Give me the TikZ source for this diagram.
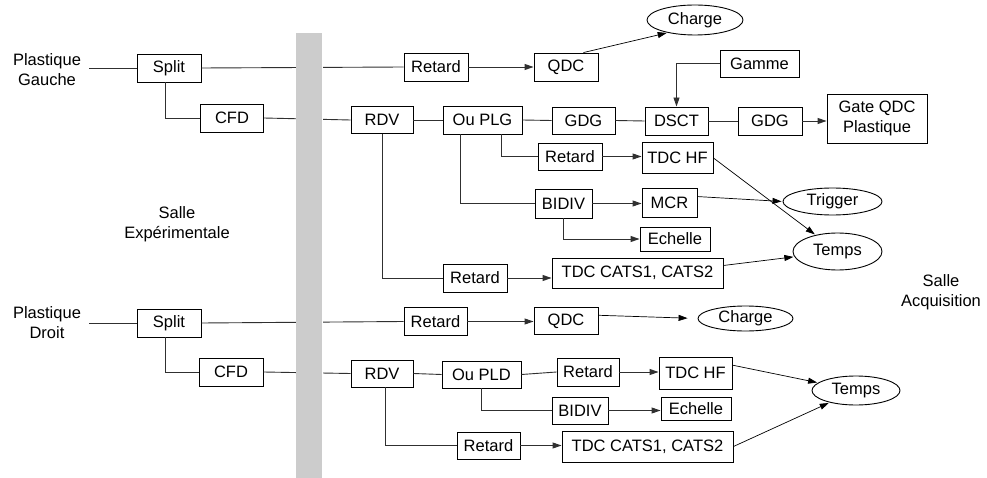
\documentclass[tikz,border=0pt]{standalone}
\usepackage{fontspec}
\setmainfont{Liberation Sans}
\usetikzlibrary{shapes.geometric,arrows.meta}
\definecolor{bargray}{HTML}{CCCCCC}
\definecolor{linegray}{HTML}{303030}
\tikzset{
  txt/.style={font=\fontsize{16.5}{20}\selectfont, inner sep=0pt},
  bx/.style={txt, draw=black, line width=0.9pt, fill=white},
  ell/.style={txt, draw=black, line width=0.9pt, ellipse},
  conn/.style={draw=linegray, line width=0.9pt},
  arr/.style={conn, -{Triangle[length=9pt,width=6pt]}},
  thinarr/.style={draw=black, line width=0.7pt, -{Triangle[length=9pt,width=6pt]}, shorten >=1pt},
}
\begin{document}
\begin{tikzpicture}[x=1pt,y=-1pt]
\useasboundingbox (0,0) rectangle (987,478);

% ---- upper chain (Plastique Gauche)
\node[txt, align=center] (pg) at (47,70) {Plastique\\Gauche};
\node[bx, minimum width=64, minimum height=28] (split1) at (169,68) {Split};
\node[bx, minimum width=63, minimum height=28] (cfd1) at (232,118) {CFD};
\node[bx, minimum width=64, minimum height=28] (retard1) at (436,67) {Retard};
\node[bx, minimum width=64, minimum height=28] (qdc1) at (566,67) {QDC};
\node[ell, minimum width=96, minimum height=30] (charge1) at (695,20) {Charge};
\node[bx, minimum width=62, minimum height=27] (rdv1) at (382,120) {RDV};
\node[bx, minimum width=79, minimum height=28] (ouplg) at (482.5,120) {Ou PLG};
\node[bx, minimum width=63, minimum height=27] (gdg1) at (583.5,120.5) {GDG};
\node[bx, minimum width=63, minimum height=28] (dsct) at (676.5,121) {DSCT};
\node[bx, minimum width=64, minimum height=28] (gdg2) at (770,121) {GDG};
\node[bx, minimum width=100, minimum height=49, align=center] (gate) at (877,118.5) {Gate QDC\\Plastique};
\node[bx, minimum width=79, minimum height=27] (gamme) at (759.5,63.5) {Gamme};
\node[bx, minimum width=64, minimum height=27] (retard2) at (570,156.5) {Retard};
\node[bx, minimum width=71, minimum height=31] (tdchf1) at (677.5,158) {TDC HF};
\node[bx, minimum width=57, minimum height=29] (bidiv1) at (563.5,203.5) {BIDIV};
\node[bx, minimum width=55, minimum height=29] (mcr) at (669.5,202.5) {MCR};
\node[ell, minimum width=99, minimum height=27] (trigger) at (832.5,201.5) {Trigger};
\node[bx, minimum width=70, minimum height=24] (echelle1) at (675,239) {Echelle};
\node[bx, minimum width=64, minimum height=28] (retard3) at (475,278) {Retard};
\node[bx, minimum width=171, minimum height=30] (tdccats1) at (637.5,273) {TDC CATS1, CATS2};
\node[ell, minimum width=89, minimum height=37] (temps1) at (837.5,251.5) {Temps};

% ---- lower chain (Plastique Droit)
\node[txt, align=center] (pd) at (47,323) {Plastique\\Droit};
\node[bx, minimum width=64, minimum height=28] (split2) at (169,323) {Split};
\node[bx, minimum width=64, minimum height=28] (cfd2) at (231,372) {CFD};
\node[bx, minimum width=63, minimum height=28] (retard4) at (435.5,321.5) {Retard};
\node[bx, minimum width=64, minimum height=27] (qdc2) at (566,321) {QDC};
\node[ell, minimum width=95, minimum height=25] (charge2) at (745.5,318.5) {Charge};
\node[bx, minimum width=62, minimum height=27] (rdv2) at (382,373.5) {RDV};
\node[bx, minimum width=79, minimum height=27] (oupld) at (481.5,374.5) {Ou PLD};
\node[bx, minimum width=62, minimum height=28] (retard5) at (588,372) {Retard};
\node[bx, minimum width=73, minimum height=32] (tdchf2) at (695.5,373) {TDC HF};
\node[bx, minimum width=56, minimum height=27] (bidiv2) at (580,410.5) {BIDIV};
\node[bx, minimum width=70, minimum height=23] (echelle2) at (696,408.5) {Echelle};
\node[bx, minimum width=63, minimum height=27] (retard6) at (488.5,445.5) {Retard};
\node[bx, minimum width=171, minimum height=31] (tdccats2) at (647.5,446.5) {TDC CATS1, CATS2};
\node[ell, minimum width=88, minimum height=29] (temps2) at (856,390.5) {Temps};

% ---- room labels
\node[txt, align=center] (salleexp) at (177,224) {Salle\\Expérimentale};
\node[txt, align=center] (salleacq) at (941,292) {Salle\\Acquisition};

% ---- connectors, upper
\draw[conn] ([xshift=8pt]split1.west -| pg.east) -- (split1.west);
\draw[conn] (split1.east) -- (retard1.west);
\draw[conn] ([xshift=-4pt]split1.south) |- (cfd1.west);
\draw[conn] (cfd1.east) -- (rdv1.west);
\draw[arr] (retard1.east) -- (qdc1.west);
\draw[thinarr] ([xshift=-15pt]qdc1.north east) -- (charge1.205);
\draw[conn] (rdv1.east) -- (ouplg.west);
\draw[conn] (ouplg.east) -- (gdg1.west);
\draw[conn] (gdg1.east) -- (dsct.west);
\draw[conn] (dsct.east) -- (gdg2.west);
\draw[arr] (gdg2.east) -- (gate.west |- gdg2.east);
\draw[arr] (gamme.west) -| (dsct.north);
\draw[conn] ([xshift=19pt]ouplg.south) |- (retard2.west);
\draw[arr] (retard2.east) -- (tdchf1.west |- retard2.east);
\draw[conn] ([xshift=-22pt]ouplg.south) |- (bidiv1.west);
\draw[arr] (bidiv1.east) -- (mcr.west |- bidiv1.east);
\draw[arr] (bidiv1.south) |- (echelle1.west);
\draw[thinarr] (mcr.12) -- (trigger.west);
\draw[thinarr] (tdchf1.east) -- (temps1);
\draw[conn] (rdv1.south) |- (retard3.west);
\draw[arr] (retard3.east) -- (tdccats1.west |- retard3.east);
\draw[thinarr] (tdccats1.5) -- (temps1);

% ---- connectors, lower
\draw[conn] ([xshift=8pt]split2.west -| pd.east) -- (split2.west);
\draw[conn] (split2.east) -- (retard4.west);
\draw[conn] ([xshift=-4pt]split2.south) |- (cfd2.west);
\draw[conn] (cfd2.east) -- (rdv2.west);
\draw[arr] (retard4.east) -- (qdc2.west |- retard4.east);
\draw[thinarr, shorten >=10pt] (qdc2.10) -- (charge2.west);
\draw[conn] (rdv2.east) -- (oupld.west);
\draw[conn] (oupld.east) -- (retard5.west);
\draw[arr] (retard5.east) -- (tdchf2.west |- retard5.east);
\draw[conn] (oupld.south) |- (bidiv2.west);
\draw[arr] (bidiv2.east) -- (echelle2.west |- bidiv2.east);
\draw[conn] ([xshift=3pt]rdv2.south) |- (retard6.west);
\draw[arr] (retard6.east) -- (tdccats2.west |- retard6.east);
\draw[thinarr] (tdchf2.12) -- (temps2);
\draw[thinarr] (tdccats2.east) -- (temps2);

% ---- separating wall between rooms (drawn over crossing lines)
\fill[bargray] (296,33) rectangle (322,478);
\draw[white, line width=1pt] (322.5,33) -- (322.5,478);
\end{tikzpicture}
\end{document}
